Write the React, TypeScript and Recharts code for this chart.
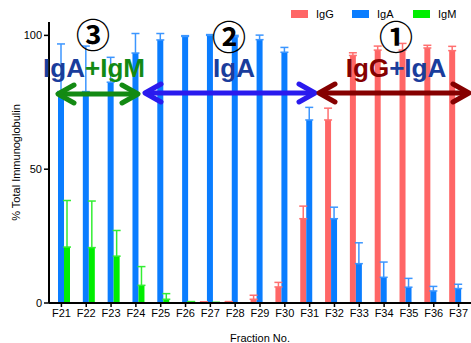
import { Bar, BarChart, ErrorBar, XAxis, YAxis, Label } from "recharts";

const fractions = ["F21", "F22", "F23", "F24", "F25", "F26", "F27", "F28", "F29", "F30", "F31", "F32", "F33", "F34", "F35", "F36", "F37"];
const igG = [0, 0, 0, 0, 0, 0, 0.4, 0.5, 1.4, 6, 31.5, 68.4, 92.5, 94.5, 94.5, 95.3, 94.3];
const igGErr = [0, 0, 0, 0, 0, 0, 0, 0, 1.5, 1.7, 4.7, 4.4, 1, 1.5, 2.5, 1, 1.6];
const igA = [79, 79, 82.5, 93.4, 98.3, 99.6, 100, 99.5, 98.4, 93.7, 68.4, 31.5, 14.7, 9.6, 5.9, 4.5, 5.4];
const igAErr = [17.8, 17, 9.3, 7.3, 2.4, 0.3, 0.3, 0.5, 1.7, 1.8, 4.7, 4.3, 7.8, 5.7, 3.3, 1.7, 1.6];
const igM = [20.9, 20.7, 17.5, 6.6, 1.4, 0.5, 0.2, 0, 0, 0, 0, 0, 0, 0, 0, 0, 0];
const igMErr = [17.4, 17.4, 9.6, 7, 2.1, 0, 0, 0, 0, 0, 0, 0, 0, 0, 0, 0, 0];
const yTicks = [0, 50, 100];

const RED = "#ff6666";
const BLUE = "#0a7dff";
const GREEN = "#00ee00";
const NAVY = "#1a3d9c";
const DKGREEN = "#138a13";
const DKRED = "#850000";
const FONT = "'Liberation Sans', Arial, sans-serif";

const data = fractions.map((f, i) => ({
  name: f,
  IgG: igG[i],
  IgA: igA[i],
  IgM: igM[i],
  gErr: [0, igGErr[i]],
  aErr: [0, igAErr[i]],
  mErr: [0, igMErr[i]],
}));

const legendItems = [
  { label: "IgG", color: RED },
  { label: "IgA", color: BLUE },
  { label: "IgM", color: GREEN },
];

// plain html legend, kept out of recharts so it doesn't push the plot down
function LegendBox() {
  return (
    <div style={{ position: "absolute", top: 8, left: 291, display: "flex", fontFamily: FONT, fontSize: 11, lineHeight: "12px" }}>
      {legendItems.map((it) => (
        <div key={it.label} style={{ width: 61, display: "flex", alignItems: "center" }}>
          <span style={{ width: 17, height: 8, background: it.color, marginRight: 8 }} />
          <span>{it.label}</span>
        </div>
      ))}
    </div>
  );
}

function Arrow({ x1, x2, y, color }: { x1: number; x2: number; y: number; color: string }) {
  const h = 16;
  const v = 9;
  return (
    <g stroke={color} strokeWidth={5} fill="none" strokeLinecap="round" strokeLinejoin="round">
      <line x1={x1 + 2} y1={y} x2={x2 - 2} y2={y} />
      <polyline points={`${x1 + h},${y - v} ${x1},${y} ${x1 + h},${y + v}`} />
      <polyline points={`${x2 - h},${y - v} ${x2},${y} ${x2 - h},${y + v}`} />
    </g>
  );
}

function Annotations() {
  const big = { fontFamily: FONT, fontWeight: 700, fontSize: 26 } as const;
  const circ = { fontFamily: "'Noto Sans CJK JP', 'DejaVu Sans', sans-serif", fontWeight: 700, fontSize: 34, fill: "#000" } as const;
  return (
    <svg width={471} height={343} style={{ position: "absolute", left: 0, top: 0, pointerEvents: "none" }}>
      <text x={93} y={48} textAnchor="middle" style={circ}>③</text>
      <text x={229} y={50} textAnchor="middle" style={circ}>②</text>
      <text x={396} y={50} textAnchor="middle" style={circ}>①</text>
      <text x={94} y={77} textAnchor="middle" style={big}>
        <tspan fill={NAVY}>IgA</tspan>
        <tspan fill={DKGREEN}>+IgM</tspan>
      </text>
      <text x={234} y={77} textAnchor="middle" style={big} fill={NAVY}>IgA</text>
      <text x={396} y={77} textAnchor="middle" style={big}>
        <tspan fill={DKRED}>IgG</tspan>
        <tspan fill={NAVY}>+IgA</tspan>
      </text>
      <Arrow x1={58} x2={138} y={94} color={DKGREEN} />
      <Arrow x1={145} x2={315} y={93} color="#2a1aee" />
      <Arrow x1={319} x2={469} y={93} color={DKRED} />
    </svg>
  );
}

export default function App() {
  return (
    <div style={{ position: "relative", width: 471, height: 343, background: "#fff" }}>
      <style>{`body{margin:0}`}</style>
      <BarChart
        width={471}
        height={343}
        data={data}
        margin={{ top: 22, right: 0, bottom: 0, left: 0 }}
        barSize={6}
        barGap={0}
      >
        <XAxis
          dataKey="name"
          height={40}
          axisLine={{ stroke: "#000", strokeWidth: 2 }}
          tickLine={{ stroke: "#000", strokeWidth: 1.5 }}
          tickSize={4}
          tick={{ fill: "#000", fontSize: 11, fontFamily: FONT }}
          interval={0}
        >
          <Label value="Fraction No." position="insideBottom" offset={0} dy={-1} style={{ fontSize: 11, fontFamily: FONT, fill: "#000" }} />
        </XAxis>
        <YAxis
          width={49}
          domain={[0, 105]}
          ticks={yTicks}
          axisLine={{ stroke: "#000", strokeWidth: 2 }}
          tickLine={{ stroke: "#000", strokeWidth: 1.5 }}
          tickSize={5}
          tick={{ fill: "#000", fontSize: 11, fontFamily: FONT }}
        >
          <Label value="% Total Immunoglobulin" angle={-90} position="insideLeft" offset={16} style={{ fontSize: 11, fontFamily: FONT, fill: "#000", textAnchor: "middle" }} />
        </YAxis>
        <Bar dataKey="IgG" fill={RED} isAnimationActive={false}>
          <ErrorBar dataKey="gErr" width={4} strokeWidth={1.5} stroke="#ff7070" direction="y" />
        </Bar>
        <Bar dataKey="IgA" fill={BLUE} isAnimationActive={false}>
          <ErrorBar dataKey="aErr" width={4} strokeWidth={1.5} stroke="#3c96ff" direction="y" />
        </Bar>
        <Bar dataKey="IgM" fill={GREEN} isAnimationActive={false}>
          <ErrorBar dataKey="mErr" width={4} strokeWidth={1.5} stroke="#33ee33" direction="y" />
        </Bar>
      </BarChart>
      <LegendBox />
      <Annotations />
    </div>
  );
}
